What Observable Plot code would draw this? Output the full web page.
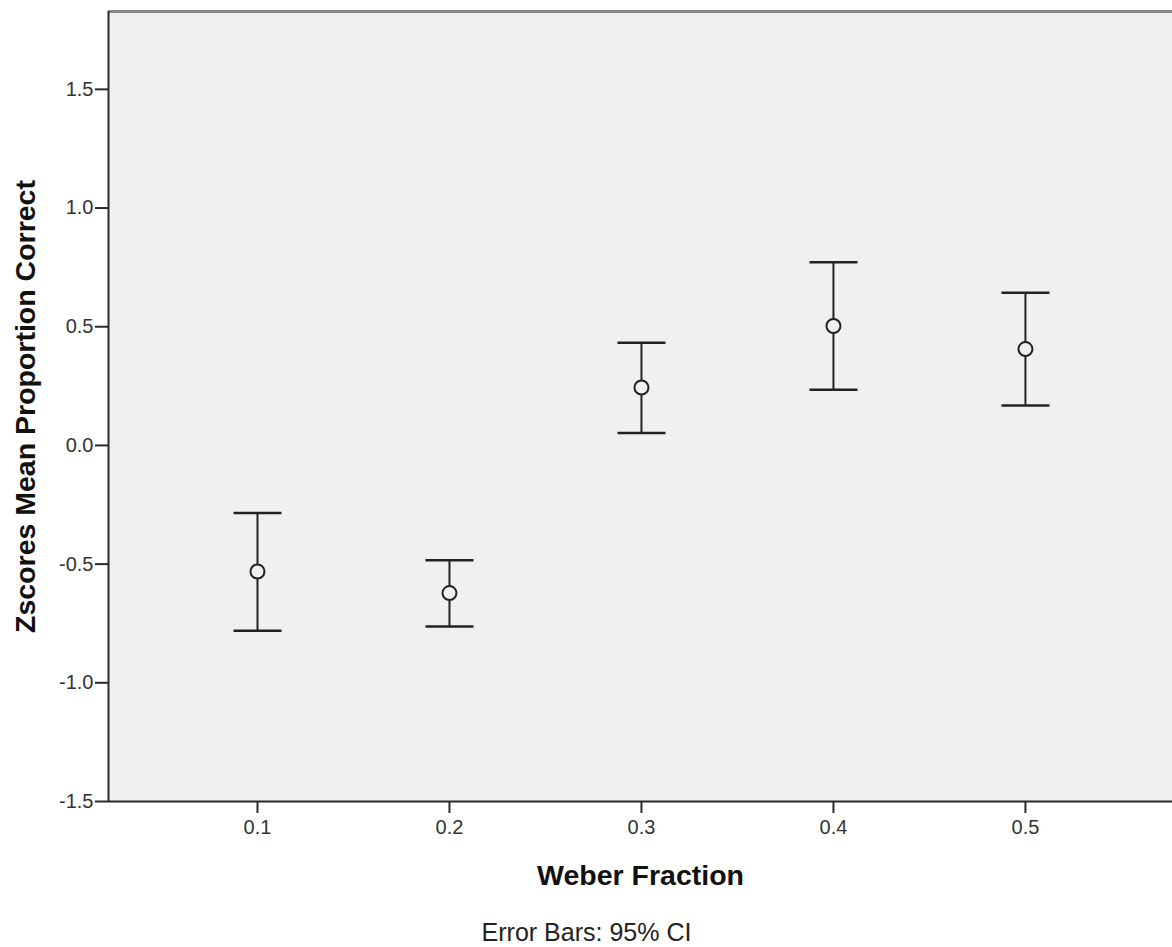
<!DOCTYPE html>
<html>
<head>
<meta charset="utf-8">
<script src="https://cdn.jsdelivr.net/npm/d3@7"></script>
<script src="https://cdn.jsdelivr.net/npm/@observablehq/plot@0.6"></script>
<style>
  html, body { margin: 0; padding: 0; background: #ffffff; }
  #chart svg { display: block; }
</style>
</head>
<body>
<div id="chart"></div>
<script>
// Data
const weberFractions = [0.1, 0.2, 0.3, 0.4, 0.5];
const means = [-0.531, -0.622, 0.244, 0.503, 0.406];
const ciLower = [-0.781, -0.763, 0.052, 0.235, 0.168];
const ciUpper = [-0.285, -0.484, 0.433, 0.772, 0.643];
const yTicks = [-1.5, -1.0, -0.5, 0.0, 0.5, 1.0, 1.5];
const xTitle = "Weber Fraction";
const yTitle = "Zscores Mean Proportion Correct";
const caption = "Error Bars: 95% CI";

const data = weberFractions.map((x, i) => ({x, mean: means[i], lo: ciLower[i], hi: ciUpper[i]}));
const capHalf = 0.0125;
const xDomain = [0.0224, 0.5766];
const yDomain = [-1.5, 1.828];
const fmt = d => d.toFixed(1);

const font = "'Liberation Sans', Arial, sans-serif";

const chart = Plot.plot({
  width: 1172,
  height: 947,
  marginLeft: 108,
  marginTop: 11,
  marginRight: 0,
  marginBottom: 146,
  style: {fontFamily: font, background: "#ffffff"},
  x: {domain: xDomain},
  y: {domain: yDomain},
  marks: [
    Plot.frame({fill: "#f0f0f0", stroke: null}),
    Plot.ruleY([yDomain[1]], {stroke: "#8a8a8a", strokeWidth: 3}),
    Plot.ruleX([xDomain[0]], {stroke: "#2a2a2a", strokeWidth: 2}),
    Plot.ruleY([yDomain[0]], {stroke: "#2a2a2a", strokeWidth: 2}),
    Plot.axisX({ticks: weberFractions, tickFormat: fmt, tickSize: 12, tickPadding: 6,
      fontSize: 20, stroke: "#2a2a2a", strokeWidth: 2, fill: "#333", label: null}),
    Plot.axisY({ticks: yTicks, tickFormat: fmt, tickSize: 13, tickPadding: 2,
      fontSize: 20, stroke: "#2a2a2a", strokeWidth: 2, fill: "#333", label: null}),
    Plot.ruleX(data, {x: "x", y1: "lo", y2: "hi", stroke: "#222", strokeWidth: 2}),
    Plot.link(data, {x1: d => d.x - capHalf, x2: d => d.x + capHalf, y1: "hi", y2: "hi", stroke: "#222", strokeWidth: 2.5}),
    Plot.link(data, {x1: d => d.x - capHalf, x2: d => d.x + capHalf, y1: "lo", y2: "lo", stroke: "#222", strokeWidth: 2.5}),
    Plot.dot(data, {x: "x", y: "mean", r: 7, fill: "#f0f0f0", stroke: "#222", strokeWidth: 2}),
    Plot.text([xTitle], {frameAnchor: "bottom", textAnchor: "middle", lineAnchor: "middle", dy: 74, fontSize: 28.5, fontWeight: "bold", fill: "#111"}),
    Plot.text([yTitle], {frameAnchor: "left", textAnchor: "middle", lineAnchor: "middle", dx: -83, rotate: -90, fontSize: 28.5, fontWeight: "bold", fill: "#111"}),
    Plot.text([caption], {frameAnchor: "bottom", textAnchor: "middle", lineAnchor: "middle", dx: -54, dy: 131, fontSize: 25, fill: "#222"})
  ]
});
document.getElementById("chart").appendChild(chart);
</script>
</body>
</html>
